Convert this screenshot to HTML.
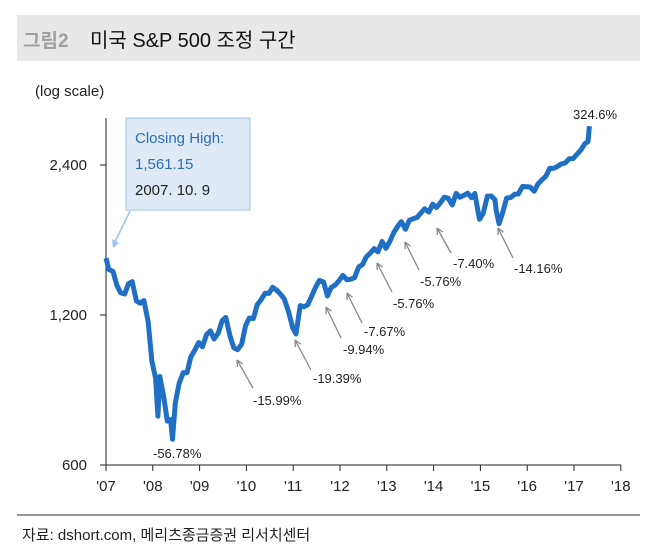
<!DOCTYPE html>
<html><head><meta charset="utf-8"><style>
body{margin:0;background:#fff;width:654px;height:557px;overflow:hidden;font-family:"Liberation Sans","Noto Sans CJK KR",sans-serif}
svg{position:absolute;left:0;top:0}
</style></head><body>
<svg width="654" height="557" id="c">
<rect x="17" y="15" width="623" height="46" fill="#e8e8e8"/>
<text x="23" y="47" font-size="19" font-weight="bold" fill="#a0a0a0" font-family="Liberation Sans,Noto Sans CJK KR,sans-serif">그림2</text>
<text x="90" y="47" font-size="20" fill="#111" font-family="Liberation Sans,Noto Sans CJK KR,sans-serif">미국 S&amp;P 500 조정 구간</text>
<text x="35" y="96" font-size="15" fill="#222">(log scale)</text>
<g id="axes"></g>
<path id="line" fill="none" stroke="#1f6fc5" stroke-width="5" stroke-linejoin="round"/>
<rect x="126" y="118" width="124" height="92" fill="#dfeaf6" stroke="#9dc3e6"/>
<text x="135" y="143" font-size="15" fill="#2e6db4">Closing High:</text>
<text x="135" y="169" font-size="15" fill="#2e6db4">1,561.15</text>
<text x="135" y="195" font-size="15" fill="#222">2007. 10. 9</text>
<line x1="130" y1="211" x2="113" y2="246" stroke="#9dc3e6" stroke-width="1.5"/>
<path d="M113,248 l-1,-9 l7,4z" fill="#9dc3e6"/>
<g id="ann" font-size="13" fill="#222"></g>
<line x1="17" y1="515" x2="640" y2="515" stroke="#333"/>
<text x="22" y="540" font-size="15" fill="#222" font-family="Liberation Sans,Noto Sans CJK KR,sans-serif">자료: dshort.com, 메리츠종금증권 리서치센터</text>
</svg>
<script>
const dates=[2007.77,2007.83,2007.92,2008.0,2008.08,2008.17,2008.25,2008.33,2008.42,2008.5,2008.58,2008.67,2008.75,2008.83,2008.88,2008.92,2009.0,2009.08,2009.15,2009.19,2009.25,2009.33,2009.42,2009.5,2009.58,2009.67,2009.75,2009.83,2009.92,2010.0,2010.08,2010.17,2010.25,2010.33,2010.42,2010.5,2010.58,2010.67,2010.75,2010.83,2010.92,2011.0,2011.08,2011.17,2011.25,2011.33,2011.42,2011.5,2011.58,2011.67,2011.76,2011.83,2011.92,2012.0,2012.08,2012.17,2012.25,2012.33,2012.42,2012.5,2012.58,2012.67,2012.75,2012.83,2012.92,2013.0,2013.08,2013.17,2013.25,2013.33,2013.42,2013.5,2013.58,2013.67,2013.75,2013.83,2013.92,2014.0,2014.08,2014.17,2014.25,2014.33,2014.42,2014.5,2014.58,2014.67,2014.75,2014.83,2014.92,2015.0,2015.08,2015.17,2015.25,2015.33,2015.42,2015.5,2015.58,2015.65,2015.75,2015.83,2015.92,2016.0,2016.08,2016.11,2016.17,2016.25,2016.33,2016.42,2016.5,2016.58,2016.67,2016.75,2016.83,2016.92,2017.0,2017.08,2017.17,2017.25,2017.33,2017.42,2017.5,2017.58,2017.67,2017.75,2017.83,2017.92,2018.0,2018.07,2018.1];
const values=[1561,1481,1468,1378,1330,1322,1386,1400,1280,1267,1283,1165,969,896,752,903,826,735,740,676,798,873,919,919,987,1021,1057,1036,1096,1115,1074,1104,1169,1187,1089,1031,1022,1049,1141,1183,1181,1258,1286,1327,1326,1364,1345,1321,1292,1219,1131,1099,1253,1247,1258,1312,1366,1408,1398,1310,1362,1379,1407,1441,1412,1416,1426,1498,1515,1569,1598,1631,1606,1686,1633,1682,1757,1806,1848,1783,1859,1872,1884,1924,1960,1931,2003,1972,2018,2068,2059,1995,2105,2068,2086,2107,2063,2104,1867,1920,2079,2080,2044,1940,1829,1932,2060,2065,2097,2099,2174,2171,2168,2126,2199,2239,2279,2364,2363,2384,2412,2423,2470,2472,2519,2575,2648,2674,2873,2780];
const yTicks=[600,1200,2400];
const yTickLabels=["600","1,200","2,400"];
const xTickLabels=["'07","'08","'09","'10","'11","'12","'13","'14","'15","'16","'17","'18"];
const annLabels=["-56.78%","-15.99%","-19.39%","-9.94%","-7.67%","-5.76%","-5.76%","-7.40%","-14.16%","324.6%"];
const NS="http://www.w3.org/2000/svg";
const X=t=>106+(t-2007.77)*46.8;
const Y=v=>465-150*Math.log2(v/600);
function mk(tag,attrs,parent,text){const e=document.createElementNS(NS,tag);for(const k in attrs)e.setAttribute(k,attrs[k]);if(text!==undefined)e.textContent=text;parent.appendChild(e);return e;}
const ax=document.getElementById('axes');
let e=mk('line',{x1:106,y1:118,x2:106,y2:465,stroke:'#222'},ax);


e=mk('line',{x1:106,y1:465,x2:621,y2:465,stroke:'#222'},ax);


yTicks.forEach((v,i)=>{
 const y=Y(v);
 let t=mk('line',{x1:100,y1:y,x2:106,y2:y,stroke:'#222'},ax);
 
 
 let l=mk('text',{x:87,y:y+5,'text-anchor':'end','font-size':15,fill:'#222'},ax,yTickLabels[i]);
 
 
});
xTickLabels.forEach((s,i)=>{
 const x=106+i*46.8;
 let t=mk('line',{x1:x,y1:465,x2:x,y2:471,stroke:'#222'},ax);
 
 
 let l=mk('text',{x:x,y:491,'text-anchor':'middle','font-size':15,fill:'#222'},ax,s);
 
 
});
document.getElementById('line').setAttribute('d',dates.map((t,i)=>(i?'L':'M')+X(t).toFixed(1)+','+Y(values[i]).toFixed(1)).join(''));
const an=document.getElementById('ann');
const annPos=[[153,458,null],[253,405,[253,388,237,360]],[313,383,[311,370,295,340]],[343,354,[341,338,326,307]],[364,336,[362,323,347,293]],[393,308,[392,292,377,263]],[420,286,[419,270,405,242]],[453,268,[451,253,437,228]],[514,273,[513,258,498,228]],[573,119,null]];
annLabels.forEach((s,i)=>{
 const p=annPos[i];
 let t=mk('text',{x:p[0],y:p[1]},an,s);
 
 
 if(p[2]){const a=p[2];
  let l=mk('line',{x1:a[0],y1:a[1],x2:a[2],y2:a[3],stroke:'#888','stroke-width':1.3},an);
  
  
  const ang=Math.atan2(a[3]-a[1],a[2]-a[0]);
  const h=(d)=>[a[2]-7*Math.cos(ang+d),a[3]-7*Math.sin(ang+d)];
  const h1=h(0.45),h2=h(-0.45);
  let hd=mk('path',{d:`M${a[2]},${a[3]}L${h1[0]},${h1[1]}M${a[2]},${a[3]}L${h2[0]},${h2[1]}`,stroke:'#888','stroke-width':1.3,fill:'none'},an);
  
  
 }
});
</script>
</body></html>
